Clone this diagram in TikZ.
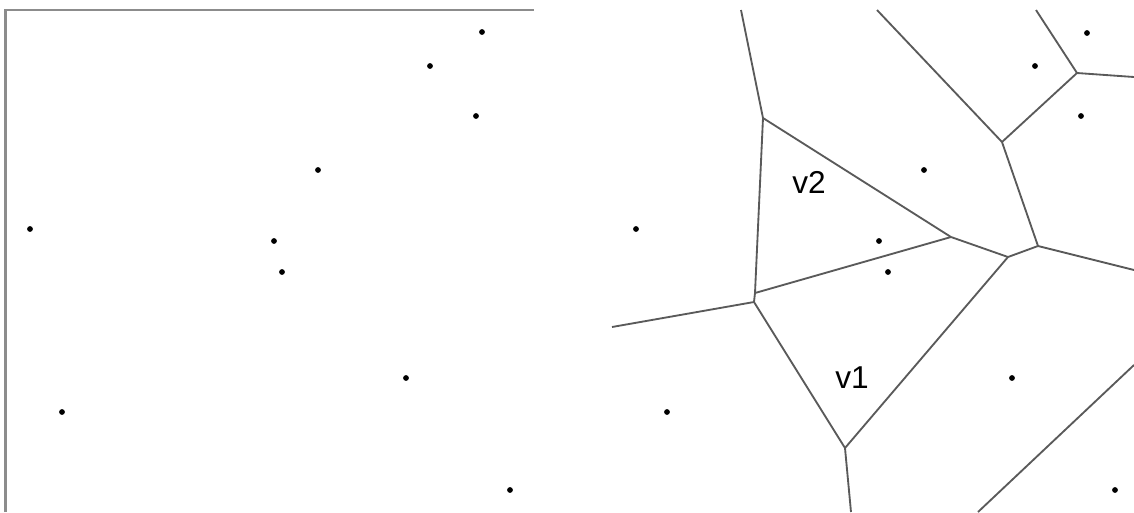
\documentclass[tikz,border=0pt]{standalone}
\usepackage{fontspec}
\setmainfont{Liberation Sans}
\usepackage{xcolor}
\definecolor{framegray}{RGB}{140,140,140}
\definecolor{edgegray}{RGB}{90,90,90}
\tikzset{
    site/.style={circle, fill=black, inner sep=0pt, minimum size=3.3pt},
    frame/.style={draw=framegray, line width=1.3pt},
    edge/.style={draw=edgegray, line width=1.05pt},
    cell/.style={font=\fontsize{18}{21}\selectfont}
}

\begin{document}
\begin{tikzpicture}[x=0.02cm, y=-0.02cm]
    \useasboundingbox (0,0) rectangle (1134,512);

    \coordinate (fbl) at (5.5,512);
    \coordinate (ftl) at (5.5,10);
    \coordinate (ftr) at (534,10);
    \draw [frame] (fbl) -- (ftl) -- (ftr);

    \node (l1) [site] at (482,32) {};
    \node (l2) [site] at (430,66) {};
    \node (l3) [site] at (476,116) {};
    \node (l4) [site] at (318,170) {};
    \node (l5) [site] at (30,229) {};
    \node (l6) [site] at (274,241) {};
    \node (l7) [site] at (282,272) {};
    \node (l8) [site] at (406,378) {};
    \node (l9) [site] at (62,412) {};
    \node (l10) [site] at (510,490) {};

    \node (r1) [site] at (1087,33) {};
    \node (r2) [site] at (1035,66) {};
    \node (r3) [site] at (1081,116) {};
    \node (r4) [site] at (924,170) {};
    \node (r5) [site] at (636,229) {};
    \node (r6) [site] at (879,241) {};
    \node (r7) [site] at (888,272) {};
    \node (r8) [site] at (1012,378) {};
    \node (r9) [site] at (667,412) {};
    \node (r10) [site] at (1115,490) {};

    \coordinate (topA) at (741,10);
    \coordinate (vA) at (763,118);
    \coordinate (vB) at (951,237);
    \coordinate (topC) at (877,10);
    \coordinate (vC) at (1002,142);
    \coordinate (topD) at (1036,10);
    \coordinate (vD) at (1077,73);
    \coordinate (rightD) at (1134,77);
    \coordinate (vE) at (1038,246);
    \coordinate (rightE) at (1134,270);
    \coordinate (vF) at (1008,257);
    \coordinate (vG) at (755,293);
    \coordinate (vGG) at (754,302);
    \coordinate (leftG) at (612,327);
    \coordinate (vH) at (845,448);
    \coordinate (bottomH) at (851,512);
    \coordinate (rightK) at (1134,365);
    \coordinate (bottomK) at (978,512);

    \draw [edge] (topA) -- (vA);
    \draw [edge] (vA) -- (vG);
    \draw [edge] (vA) -- (vB);
    \draw [edge] (vG) -- (vB);
    \draw [edge] (vG) -- (vGG);
    \draw [edge] (leftG) -- (vGG);
    \draw [edge] (vGG) -- (vH);
    \draw [edge] (vH) -- (bottomH);
    \draw [edge] (vH) -- (vF);
    \draw [edge] (vB) -- (vF);
    \draw [edge] (vF) -- (vE);
    \draw [edge] (vE) -- (vC);
    \draw [edge] (vE) -- (rightE);
    \draw [edge] (vC) -- (topC);
    \draw [edge] (vC) -- (vD);
    \draw [edge] (vD) -- (topD);
    \draw [edge] (vD) -- (rightD);
    \draw [edge] (rightK) -- (bottomK);

    \node (v2) [cell] at (809,182) {v2};
    \node (v1) [cell] at (852,378) {v1};
\end{tikzpicture}
\end{document}
